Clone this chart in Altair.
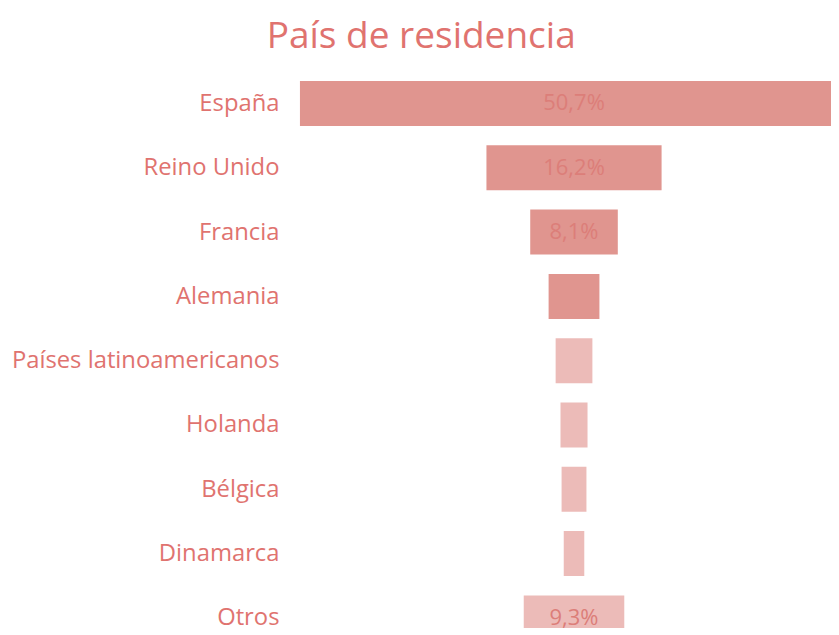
import altair as alt
import pandas as pd

categories = ["España", "Reino Unido", "Francia", "Alemania", "Países latinoamericanos",
              "Holanda", "Bélgica", "Dinamarca", "Otros"]
values = [50.7, 16.2, 8.1, 4.7, 3.4, 2.5, 2.3, 1.9, 9.3]
value_labels = ["50,7%", "16,2%", "8,1%", "", "", "", "", "", "9,3%"]
tones = ["dark", "dark", "dark", "dark", "light", "light", "light", "light", "light"]

df = pd.DataFrame({
    "cat": categories,
    "idx": list(range(len(categories))),
    "val": values,
    "lab": value_labels,
    "tone": tones,
})

TEXT = "#E0736F"
FONT = "Open Sans"

names_js = "[" + ",".join("'" + c + "'" for c in categories) + "]"

xscale = alt.Scale(domain=[-26.27, 23.77], nice=False, zero=False)
yscale = alt.Scale(domain=[-0.505, 8.157], reverse=True, nice=False, zero=False)

base = alt.Chart(df).transform_calculate(
    x0="-datum.val/2", x1="datum.val/2",
    y0="datum.idx-0.35", y1="datum.idx+0.35"
)

bars = base.mark_bar(clip=True).encode(
    x=alt.X("x0:Q", scale=xscale, axis=None),
    x2="x1:Q",
    y=alt.Y("y0:Q", scale=yscale,
            axis=alt.Axis(values=list(range(len(categories))),
                          labelExpr=names_js + "[datum.value]",
                          domain=False, ticks=False, grid=False, title=None,
                          labelFont=FONT, labelFontSize=23.8, labelColor=TEXT,
                          labelPadding=11, labelLimit=400)),
    y2="y1:Q",
    color=alt.Color("tone:N", scale=alt.Scale(domain=["dark", "light"],
                                              range=["#E0958F", "#ECBBB8"]), legend=None),
)

texts = base.mark_text(font=FONT, fontSize=22, color="#DC7E79", clip=True).encode(
    x=alt.X("zero:Q", scale=xscale),
    y=alt.Y("idx:Q", scale=yscale),
    text="lab:N",
).transform_calculate(zero="0")

chart = (bars + texts).properties(
    width=541, height=557,
    padding={"left": 3, "top": 10, "right": 0, "bottom": 0},
    title=alt.Title("País de residencia", font=FONT, fontSize=37, fontWeight="normal",
                    color=TEXT, anchor="middle", frame="bounds", offset=15),
).configure_view(stroke=None)

chart.save("out.html", embed_options={"renderer": "svg", "actions": False})
